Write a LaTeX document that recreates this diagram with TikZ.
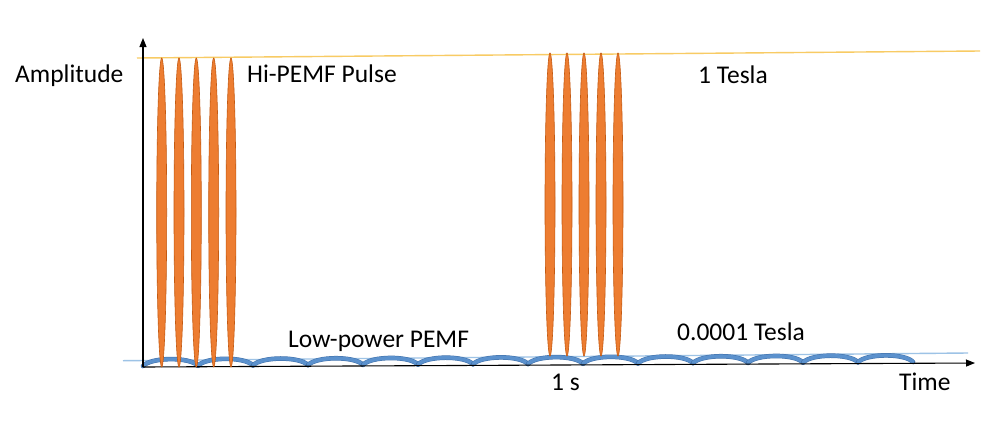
\documentclass[tikz,border=0pt]{standalone}
\usepackage{fontspec}
\setmainfont{Carlito}
\usetikzlibrary{arrows.meta}
\definecolor{pulseorange}{RGB}{237,125,49}
\definecolor{pulseedge}{RGB}{197,90,17}
\definecolor{lowblue}{RGB}{91,145,205}
\definecolor{lowedge}{RGB}{65,113,170}
\definecolor{thinblue}{RGB}{157,195,230}
\definecolor{teslayellow}{RGB}{248,203,100}
\tikzset{
  lbl/.style={anchor=base west, inner sep=0pt, font=\fontsize{25.5}{29}\selectfont, text=black},
  pulse/.style={fill=pulseorange, draw=pulseedge, line width=0.6pt},
  hump/.style={draw=lowblue, line width=3.6pt, line cap=round},
  humpedge/.style={draw=lowedge, line width=4.6pt, line cap=round},
  axisline/.style={draw=black, line width=1.1pt, -{Triangle[length=9pt,width=7pt]}},
  refline/.style={line width=1.4pt}
}
\begin{document}
\begin{tikzpicture}[x=1pt,y=-1pt]
\useasboundingbox[fill=white] (0,0) rectangle (1004,424);
% reference lines
\coordinate (tA) at (123,360.7);
\coordinate (tB) at (968,353);
\draw[refline, draw=thinblue] (tA) -- (tB);
\coordinate (yA) at (137,58);
\coordinate (yB) at (980,51);
\draw[refline, draw=teslayellow] (yA) -- (yB);
% low-power humps
\foreach \i in {0,...,13}{
  \pgfmathsetmacro{\xa}{143+55*\i}
  \pgfmathsetmacro{\xb}{\xa+55}
  \pgfmathsetmacro{\ya}{366-4*(\xa-143)/770}
  \pgfmathsetmacro{\yb}{366-4*(\xb-143)/770}
  \draw[humpedge] (\xa,\ya) .. controls (\xa+8,\ya-9) and (\xb-8,\yb-9) .. (\xb,\yb);
  \draw[hump] (\xa,\ya) .. controls (\xa+8,\ya-9) and (\xb-8,\yb-9) .. (\xb,\yb);
}
% axes
\coordinate (O) at (143,367);
\coordinate (Ytip) at (143,38);
\coordinate (Xtip) at (975,363);
\draw[axisline] (O) -- (Ytip);
\draw[axisline] (O) -- (Xtip);
% high-power pulses
\foreach \x in {161.7,179,196.3,213.7,231}{
  \draw[pulse] (\x,212.5) ellipse [x radius=5pt, y radius=154.5pt];
}
\foreach \x in {550,567,584,601,618}{
  \draw[pulse] (\x,204.5) ellipse [x radius=5pt, y radius=151.5pt];
}
% labels
\node[lbl] (amp) at (15,82) {Amplitude};
\node[lbl] (hi) at (247,82) {Hi-PEMF Pulse};
\node[lbl] (one) at (698,83) {1 Tesla};
\node[lbl] (low) at (288,347) {Low-power PEMF};
\node[lbl] (small) at (677,340) {0.0001 Tesla};
\node[lbl] (sec) at (551,390) {1 s};
\node[lbl] (time) at (899,390) {Time};
\end{tikzpicture}
\end{document}
